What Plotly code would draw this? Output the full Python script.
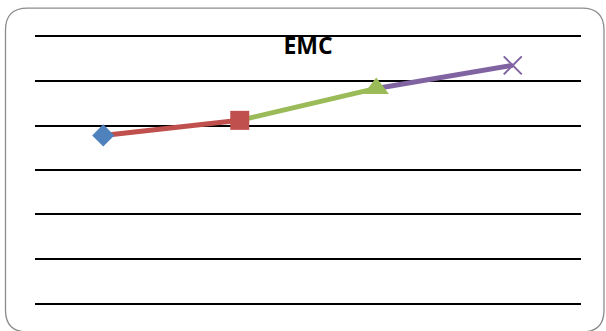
import plotly.graph_objects as go

categories = ["A", "B", "C", "D"]
values = [3.78, 4.12, 4.84, 5.36]
colors = ["#4F81BD", "#C0504D", "#9BBB59", "#8064A2"]
symbols = ["diamond", "square", "triangle-up", "x-thin-open"]
sizes = [17, 19, 22, 18]

W, H = 606, 331
L, R, T, B = 35, 25, 36.5, 28
pw, ph = W - L - R, H - T - B

fig = go.Figure()
for i in range(1, len(values)):
    fig.add_trace(go.Scatter(
        x=[categories[i - 1], categories[i]], y=[values[i - 1], values[i]],
        mode="lines", line=dict(color=colors[i], width=5),
        showlegend=False, hoverinfo="skip"))
for i in range(len(values)):
    fig.add_trace(go.Scatter(
        x=[categories[i]], y=[values[i]], mode="markers",
        marker=dict(symbol=symbols[i], size=sizes[i], color=colors[i],
                    line=dict(color=colors[i], width=2 if i == 3 else 0)),
        showlegend=False))

def px(x):
    return (x - L) / pw

def py(y):
    return (H - B - y) / ph

# rounded border
x0, y0, x1, y1, r = 5.5, 7.5, 604, 332, 22
path = (f"M {px(x0 + r)} {py(y0)} L {px(x1 - r)} {py(y0)} "
        f"Q {px(x1)} {py(y0)} {px(x1)} {py(y0 + r)} "
        f"L {px(x1)} {py(y1 - r)} Q {px(x1)} {py(y1)} {px(x1 - r)} {py(y1)} "
        f"L {px(x0 + r)} {py(y1)} Q {px(x0)} {py(y1)} {px(x0)} {py(y1 - r)} "
        f"L {px(x0)} {py(y0 + r)} Q {px(x0)} {py(y0)} {px(x0 + r)} {py(y0)} Z")
fig.add_shape(type="path", path=path, xref="paper", yref="paper",
              line=dict(color="#8C8C8C", width=1.3), layer="below")

fig.update_layout(
    width=W, height=H,
    margin=dict(l=L, r=R, t=T, b=B),
    paper_bgcolor="white", plot_bgcolor="white",
    title=dict(text="<b>EMC</b>", x=(308 - L) / pw, xref="paper",
               xanchor="center", y=1 - 46 / H, yanchor="middle",
               font=dict(family="Open Sans", size=23, color="black")),
    xaxis=dict(type="category", range=[-0.5, 3.5], showgrid=False,
               showticklabels=False, zeroline=False, showline=True,
               mirror=True, linecolor="black", linewidth=2, ticks=""),
    yaxis=dict(range=[0, 6], dtick=1, showgrid=True, gridcolor="black",
               gridwidth=2, showticklabels=False, zeroline=False,
               showline=False, ticks=""),
)
fig.write_html("out.html")
